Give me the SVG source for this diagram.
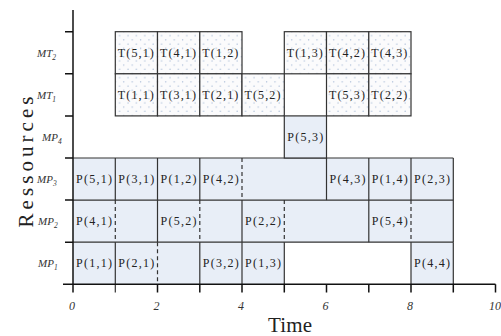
<svg xmlns="http://www.w3.org/2000/svg" width="501" height="336" viewBox="0 0 501 336">
<style>
.c{font-family:"Liberation Serif",serif;font-size:12px;fill:#222}
.lab{font-family:"Liberation Serif",serif;font-style:italic;font-size:11px;fill:#333}
.tk{font-family:"Liberation Serif",serif;font-style:italic;font-size:12px;fill:#333;text-anchor:middle}
.ax{font-family:"Liberation Serif",serif;font-size:21px;fill:#222}
.pf{fill:#e8eef7;stroke:none}
.pc{fill:#e8eef7;stroke:#333;stroke-width:1.2}
.tc{fill:url(#dots);stroke:#333;stroke-width:1.2}
.s{stroke:#333;stroke-width:1.2;fill:none}
.d{stroke:#333;stroke-width:1.2;fill:none;stroke-dasharray:4 3}
.axl{stroke:#111;stroke-width:1.5;fill:none}
</style>
<defs>
<pattern id="dots" patternUnits="userSpaceOnUse" width="8.4" height="8.4">
<rect width="8.4" height="8.4" fill="#fbfbfc"/>
<circle cx="2" cy="2" r="0.7" fill="#aabdd8"/>
<circle cx="6.2" cy="6.2" r="0.7" fill="#aabdd8"/>
</pattern>
</defs>
<rect width="501" height="336" fill="#fff"/>

<!-- MP rows background fills -->
<g id="row-fills">
<rect class="pf" x="73" y="158" width="380.3" height="42.1"/>
<rect class="pf" x="73" y="200.1" width="380.3" height="42.1"/>
<rect class="pf" x="73" y="242.2" width="211.3" height="42.1"/>
<rect class="pf" x="411" y="242.2" width="42.3" height="42.1"/>
</g>

<!-- cell borders -->
<g id="connectors">
<line class="s" x1="73" y1="158" x2="453.3" y2="158"/>
<line class="s" x1="73" y1="200.1" x2="453.3" y2="200.1"/>
<line class="s" x1="73" y1="242.2" x2="453.3" y2="242.2"/>
<!-- MP3 verticals -->
<line class="s" x1="115.3" y1="158" x2="115.3" y2="200.1"/>
<line class="s" x1="157.5" y1="158" x2="157.5" y2="200.1"/>
<line class="s" x1="199.8" y1="158" x2="199.8" y2="200.1"/>
<line class="d" x1="242" y1="158" x2="242" y2="200.1"/>
<line class="s" x1="326.5" y1="158" x2="326.5" y2="200.1"/>
<line class="s" x1="368.8" y1="158" x2="368.8" y2="200.1"/>
<line class="s" x1="411" y1="158" x2="411" y2="200.1"/>
<line class="s" x1="453.3" y1="158" x2="453.3" y2="200.1"/>
<!-- MP2 verticals -->
<line class="d" x1="115.3" y1="200.1" x2="115.3" y2="242.2"/>
<line class="s" x1="157.5" y1="200.1" x2="157.5" y2="242.2"/>
<line class="d" x1="199.8" y1="200.1" x2="199.8" y2="242.2"/>
<line class="s" x1="242" y1="200.1" x2="242" y2="242.2"/>
<line class="d" x1="284.3" y1="200.1" x2="284.3" y2="242.2"/>
<line class="s" x1="368.8" y1="200.1" x2="368.8" y2="242.2"/>
<line class="d" x1="411" y1="200.1" x2="411" y2="242.2"/>
<line class="s" x1="453.3" y1="200.1" x2="453.3" y2="242.2"/>
<!-- MP1 verticals -->
<line class="s" x1="115.3" y1="242.2" x2="115.3" y2="292.5"/>
<line class="d" x1="157.5" y1="242.2" x2="157.5" y2="284.3"/>
<line class="s" x1="199.8" y1="242.2" x2="199.8" y2="284.3"/>
<line class="s" x1="242" y1="242.2" x2="242" y2="284.3"/>
<line class="s" x1="284.3" y1="242.2" x2="284.3" y2="284.3"/>
<line class="s" x1="411" y1="242.2" x2="411" y2="284.3"/>
<line class="s" x1="453.3" y1="242.2" x2="453.3" y2="284.3"/>
</g>

<!-- MT2 -->
<g id="T51"><rect class="tc" x="115.3" y="31.7" width="42.2" height="42.1"/><text class="c" x="117.8" y="56.8" textLength="36" lengthAdjust="spacing">T(5,1)</text></g>
<g id="T41"><rect class="tc" x="157.5" y="31.7" width="42.3" height="42.1"/><text class="c" x="160" y="56.8" textLength="36" lengthAdjust="spacing">T(4,1)</text></g>
<g id="T12"><rect class="tc" x="199.8" y="31.7" width="42.2" height="42.1"/><text class="c" x="202.3" y="56.8" textLength="36" lengthAdjust="spacing">T(1,2)</text></g>
<g id="T13"><rect class="tc" x="284.3" y="31.7" width="42.2" height="42.1"/><text class="c" x="286.8" y="56.8" textLength="36" lengthAdjust="spacing">T(1,3)</text></g>
<g id="T42"><rect class="tc" x="326.5" y="31.7" width="42.3" height="42.1"/><text class="c" x="329" y="56.8" textLength="36" lengthAdjust="spacing">T(4,2)</text></g>
<g id="T43"><rect class="tc" x="368.8" y="31.7" width="42.2" height="42.1"/><text class="c" x="371.3" y="56.8" textLength="36" lengthAdjust="spacing">T(4,3)</text></g>
<!-- MT1 -->
<g id="T11"><rect class="tc" x="115.3" y="73.8" width="42.2" height="42.1"/><text class="c" x="117.8" y="98.9" textLength="36" lengthAdjust="spacing">T(1,1)</text></g>
<g id="T31"><rect class="tc" x="157.5" y="73.8" width="42.3" height="42.1"/><text class="c" x="160" y="98.9" textLength="36" lengthAdjust="spacing">T(3,1)</text></g>
<g id="T21"><rect class="tc" x="199.8" y="73.8" width="42.2" height="42.1"/><text class="c" x="202.3" y="98.9" textLength="36" lengthAdjust="spacing">T(2,1)</text></g>
<g id="T52"><rect class="tc" x="242" y="73.8" width="42.3" height="42.1"/><text class="c" x="244.5" y="98.9" textLength="36" lengthAdjust="spacing">T(5,2)</text></g>
<g id="T53"><rect class="tc" x="326.5" y="73.8" width="42.3" height="42.1"/><text class="c" x="329" y="98.9" textLength="36" lengthAdjust="spacing">T(5,3)</text></g>
<g id="T22"><rect class="tc" x="368.8" y="73.8" width="42.2" height="42.1"/><text class="c" x="371.3" y="98.9" textLength="36" lengthAdjust="spacing">T(2,2)</text></g>
<!-- MP4 -->
<g id="P53"><rect class="pc" x="284.3" y="115.9" width="42.2" height="42.1"/><text class="c" x="287.3" y="141" textLength="36" lengthAdjust="spacing">P(5,3)</text></g>
<!-- MP3 -->
<g id="P51"><text class="c" x="76" y="183.1" textLength="36" lengthAdjust="spacing">P(5,1)</text></g>
<g id="P31"><text class="c" x="118.3" y="183.1" textLength="36" lengthAdjust="spacing">P(3,1)</text></g>
<g id="P12"><text class="c" x="160.5" y="183.1" textLength="36" lengthAdjust="spacing">P(1,2)</text></g>
<g id="P42"><text class="c" x="202.8" y="183.1" textLength="36" lengthAdjust="spacing">P(4,2)</text></g>
<g id="P43"><text class="c" x="329.5" y="183.1" textLength="36" lengthAdjust="spacing">P(4,3)</text></g>
<g id="P14"><text class="c" x="371.8" y="183.1" textLength="36" lengthAdjust="spacing">P(1,4)</text></g>
<g id="P23"><text class="c" x="414" y="183.1" textLength="36" lengthAdjust="spacing">P(2,3)</text></g>
<!-- MP2 -->
<g id="P41"><text class="c" x="76" y="225.2" textLength="36" lengthAdjust="spacing">P(4,1)</text></g>
<g id="P52"><text class="c" x="160.5" y="225.2" textLength="36" lengthAdjust="spacing">P(5,2)</text></g>
<g id="P22"><text class="c" x="245" y="225.2" textLength="36" lengthAdjust="spacing">P(2,2)</text></g>
<g id="P54"><text class="c" x="371.8" y="225.2" textLength="36" lengthAdjust="spacing">P(5,4)</text></g>
<!-- MP1 -->
<g id="P11"><text class="c" x="76" y="267.3" textLength="36" lengthAdjust="spacing">P(1,1)</text></g>
<g id="P21"><text class="c" x="118.3" y="267.3" textLength="36" lengthAdjust="spacing">P(2,1)</text></g>
<g id="P32"><text class="c" x="202.8" y="267.3" textLength="36" lengthAdjust="spacing">P(3,2)</text></g>
<g id="P13"><text class="c" x="245" y="267.3" textLength="36" lengthAdjust="spacing">P(1,3)</text></g>
<g id="P44"><text class="c" x="414" y="267.3" textLength="36" lengthAdjust="spacing">P(4,4)</text></g>

<!-- axes -->
<g id="axes">
<line class="axl" x1="73" y1="10" x2="73" y2="292.5"/>
<line class="axl" x1="63" y1="284.3" x2="495.5" y2="284.3"/>
<path class="axl" d="M65 31.7H73M65 73.8H73M65 115.9H73M65 158H73M65 200.1H73M65 242.2H73"/>
<path class="axl" d="M157.5 284.3V292.5M199.8 284.3V292.5M242 284.3V292.5M284.3 284.3V292.5M326.5 284.3V292.5M368.8 284.3V292.5M411 284.3V292.5M453.3 284.3V292.5M495.5 284.3V292.5"/>
</g>

<g id="row-labels">
<text class="lab" x="37" y="57">MT<tspan font-size="7.5" dy="2.5">2</tspan></text>
<text class="lab" x="37" y="99">MT<tspan font-size="7.5" dy="2.5">1</tspan></text>
<text class="lab" x="42" y="141">MP<tspan font-size="7.5" dy="2.5">4</tspan></text>
<text class="lab" x="37" y="183">MP<tspan font-size="7.5" dy="2.5">3</tspan></text>
<text class="lab" x="38" y="225">MP<tspan font-size="7.5" dy="2.5">2</tspan></text>
<text class="lab" x="38" y="267">MP<tspan font-size="7.5" dy="2.5">1</tspan></text>
</g>

<g id="tick-labels">
<text class="tk" x="72" y="310">0</text>
<text class="tk" x="156.5" y="310">2</text>
<text class="tk" x="241" y="310">4</text>
<text class="tk" x="325.5" y="310">6</text>
<text class="tk" x="410" y="310">8</text>
<text class="tk" x="495" y="310">10</text>
</g>

<g id="axis-titles">
<text class="ax" x="0" y="0" transform="translate(33,162) rotate(-90)" text-anchor="middle" textLength="131" lengthAdjust="spacing">Ressources</text>
<text class="ax" x="268" y="332" font-size="20" textLength="44" lengthAdjust="spacing">Time</text>
</g>
</svg>
